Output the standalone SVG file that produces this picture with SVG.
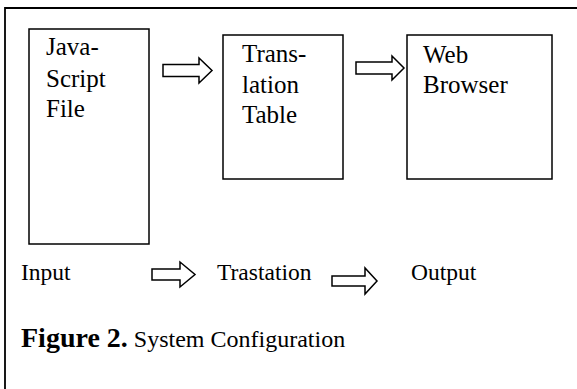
<svg xmlns="http://www.w3.org/2000/svg" width="577" height="389" viewBox="0 0 577 389">
<style>
.box{fill:#fff;stroke:#000;stroke-width:1.5}
.arr{fill:#fff;stroke:#000;stroke-width:1.5;stroke-linejoin:miter}
.lbl{font-family:"Liberation Serif","Times New Roman",serif;font-size:25px;fill:#000}
.cap{font-family:"Liberation Serif","Times New Roman",serif;font-size:23.5px;fill:#000}
.sub{font-family:"Liberation Serif","Times New Roman",serif;font-size:24px;fill:#000}
.fig{font-family:"Liberation Serif","Times New Roman",serif;font-size:28px;font-weight:bold;fill:#000}
</style>
<rect width="577" height="389" fill="#fff"/>
<path d="M5,395 L5,8 L585,8" fill="none" stroke="#000" stroke-width="1.8"/>
<g id="node-javascript">
<rect class="box" x="29" y="29" width="120" height="215"/>
<text class="lbl" x="46" y="55">Java-</text>
<text class="lbl" x="46" y="87">Script</text>
<text class="lbl" x="46" y="117">File</text>
</g>
<g id="node-translation">
<rect class="box" x="223" y="35" width="120" height="144"/>
<text class="lbl" x="242" y="62">Trans-</text>
<text class="lbl" x="242" y="93">lation</text>
<text class="lbl" x="242" y="123">Table</text>
</g>
<g id="node-browser">
<rect class="box" x="407" y="35" width="145" height="144"/>
<text class="lbl" x="423" y="63">Web</text>
<text class="lbl" x="423" y="93">Browser</text>
</g>
<g id="connectors">
<polygon class="arr" points="163,64.5 199,64.5 199,58 212,70.5 199,83 199,76.5 163,76.5"/>
<polygon class="arr" points="356,62 392,62 392,56 404,68 392,80 392,74 356,74"/>
<polygon class="arr" points="152,269 180,269 180,262 195,274.5 180,287 180,280 152,280"/>
<polygon class="arr" points="332,276 365,276 365,268 377,281 365,294 365,286 332,286"/>
</g>
<g id="labels">
<text class="cap" x="21" y="280">Input</text>
<text class="cap" x="217" y="280">Trastation</text>
<text class="cap" x="411" y="280">Output</text>
<text x="21" y="347"><tspan class="fig">Figure 2.</tspan><tspan class="sub"> System Configuration</tspan></text>
</g>
</svg>
